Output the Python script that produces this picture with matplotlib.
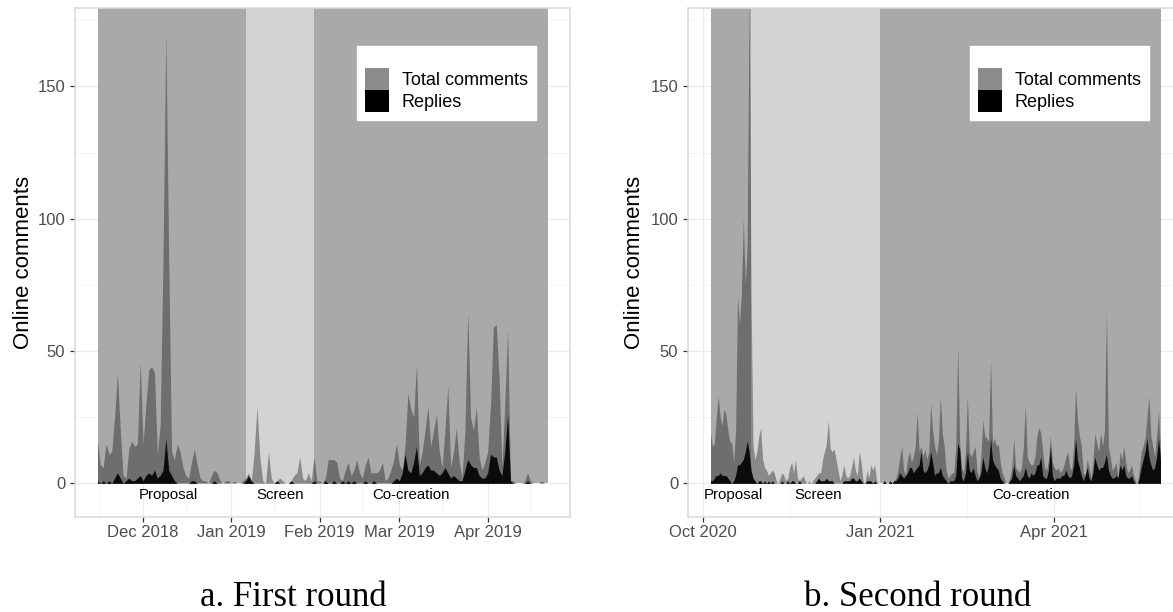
import matplotlib
matplotlib.use("Agg")
import matplotlib.pyplot as plt
import matplotlib.dates as mdates
import numpy as np
import pandas as pd
from matplotlib.patches import Patch

plt.rcParams['font.family'] = ['Liberation Sans', 'DejaVu Sans']

# ---- first round: daily counts from 2018-11-15
r1_start = '2018-11-15'
r1_total = [16, 7, 6, 15, 11, 12, 25, 42, 20, 3,
            2, 13, 16, 14, 15, 46, 15, 30, 43, 44,
            42, 11, 22, 85, 170, 85, 12, 9, 15, 12,
            6, 3, 2, 8, 13, 7, 2, 1, 1, 0,
            3, 5, 4, 1, 0, 1, 1, 0, 1, 0,
            0, 1, 2, 4, 1, 12, 29, 10, 1, 0,
            12, 2, 0, 1, 2, 1, 0, 0, 1, 3,
            4, 10, 2, 1, 4, 1, 10, 1, 1, 0,
            2, 9, 9, 9, 8, 2, 1, 5, 8, 3,
            5, 9, 4, 2, 7, 10, 4, 4, 4, 5,
            8, 1, 2, 5, 9, 15, 7, 5, 15, 34,
            28, 25, 45, 7, 12, 20, 29, 14, 20, 26,
            12, 6, 20, 37, 6, 12, 21, 8, 2, 20,
            65, 25, 20, 29, 10, 5, 8, 12, 30, 59,
            60, 40, 6, 30, 58, 1, 1, 0, 0, 0,
            1, 4, 1, 0, 0, 0, 1, 0, 0]
r1_replies = [1, 0, 1, 0, 1, 0, 2, 4, 2, 0,
              1, 2, 1, 1, 2, 3, 1, 3, 4, 3,
              5, 2, 3, 5, 17, 5, 3, 1, 0, 0,
              0, 0, 0, 1, 1, 0, 0, 0, 0, 0,
              0, 1, 0, 0, 0, 0, 0, 0, 0, 0,
              0, 0, 1, 3, 1, 0, 0, 0, 0, 0,
              0, 0, 0, 1, 0, 0, 0, 0, 1, 0,
              0, 0, 0, 0, 0, 0, 1, 0, 0, 0,
              1, 0, 0, 1, 0, 0, 1, 0, 1, 0,
              1, 0, 0, 0, 1, 0, 0, 1, 0, 0,
              0, 0, 0, 0, 1, 2, 1, 4, 11, 5,
              4, 8, 14, 3, 4, 6, 7, 5, 5, 4,
              3, 4, 6, 4, 2, 3, 2, 1, 1, 5,
              9, 7, 6, 6, 3, 2, 2, 4, 11, 10,
              10, 5, 3, 12, 26, 1, 0, 0, 0, 0,
              0, 1, 0, 0, 0, 0, 0, 0, 0]
r1_phase_edges = ['2018-11-15', '2019-01-06', '2019-01-30', '2019-04-22']
r1_label_dates = ['2018-12-10', '2019-01-18', '2019-03-05']
r1_ticks = ['2018-12-01', '2019-01-01', '2019-02-01', '2019-03-01', '2019-04-01']

# ---- second round: daily counts from 2020-10-05
r2_start = '2020-10-05'
r2_total = [19, 14, 15, 25, 33, 25, 22, 28, 26, 20,
            16, 15, 8, 20, 71, 60, 72, 100, 75, 90,
            185, 70, 14, 9, 12, 18, 21, 9, 6, 5,
            3, 4, 5, 4, 1, 0, 2, 4, 3, 1,
            2, 6, 8, 4, 9, 2, 1, 2, 3, 1,
            0, 1, 0, 1, 2, 3, 4, 4, 9, 12,
            15, 24, 13, 12, 13, 9, 5, 1, 3, 7,
            3, 2, 3, 6, 10, 5, 3, 12, 8, 1,
            0, 5, 2, 7, 5, 7, 1, 0, 0, 0,
            1, 0, 0, 1, 0, 1, 2, 5, 10, 14,
            5, 3, 9, 12, 8, 10, 14, 27, 12, 14,
            10, 13, 9, 12, 30, 20, 14, 11, 16, 33,
            19, 14, 5, 2, 3, 4, 4, 14, 52, 15,
            6, 4, 12, 33, 12, 10, 12, 14, 5, 2,
            10, 24, 18, 17, 16, 47, 15, 17, 14, 15,
            8, 4, 2, 0, 0, 2, 6, 17, 6, 5,
            4, 6, 14, 30, 10, 8, 7, 7, 10, 18,
            21, 19, 12, 6, 5, 9, 18, 8, 6, 5,
            6, 4, 5, 7, 10, 12, 6, 5, 14, 36,
            24, 18, 14, 4, 3, 9, 6, 2, 8, 19,
            15, 12, 19, 14, 20, 65, 14, 10, 5, 6,
            8, 2, 12, 9, 14, 8, 4, 5, 7, 3,
            1, 0, 5, 12, 14, 17, 25, 33, 18, 14,
            10, 18, 27, 12]
r2_replies = [1, 1, 2, 3, 3, 4, 3, 3, 3, 2,
              1, 0, 1, 3, 7, 7, 8, 9, 12, 16,
              12, 5, 2, 1, 0, 1, 1, 0, 1, 0,
              1, 0, 1, 0, 0, 0, 0, 1, 0, 0,
              1, 0, 1, 1, 0, 0, 1, 0, 0, 0,
              0, 0, 0, 0, 0, 1, 2, 1, 1, 1,
              2, 1, 1, 1, 0, 0, 0, 0, 0, 1,
              1, 1, 1, 2, 2, 1, 1, 2, 1, 0,
              0, 1, 1, 1, 0, 1, 0, 0, 0, 0,
              1, 0, 0, 1, 0, 1, 1, 2, 4, 3,
              2, 3, 4, 6, 6, 4, 5, 6, 7, 12,
              5, 4, 5, 7, 12, 8, 3, 4, 4, 6,
              3, 2, 1, 0, 1, 1, 1, 3, 15, 13,
              2, 1, 4, 12, 5, 4, 6, 3, 1, 2,
              4, 10, 6, 4, 7, 17, 9, 7, 6, 5,
              2, 1, 0, 0, 0, 1, 2, 7, 3, 2,
              1, 2, 3, 6, 3, 2, 4, 3, 4, 7,
              7, 10, 3, 2, 2, 5, 14, 3, 1, 2,
              2, 2, 3, 3, 5, 3, 2, 3, 7, 17,
              9, 6, 3, 1, 3, 6, 2, 1, 4, 10,
              7, 5, 6, 6, 8, 11, 5, 3, 2, 2,
              3, 2, 7, 5, 7, 3, 2, 2, 3, 1,
              0, 0, 2, 6, 9, 12, 17, 10, 7, 5,
              6, 10, 17, 9]
r2_phase_edges = ['2020-10-05', '2020-10-26', '2021-01-01', '2021-05-26']
r2_label_dates = ['2020-10-17', '2020-11-30', '2021-03-20']
r2_ticks = ['2020-10-01', '2021-01-01', '2021-04-01']

phase_names = ['Proposal', 'Screen', 'Co-creation']
phase_colors = ['#a9a9a9', '#d3d3d3', '#a9a9a9']
y_ticks = [0, 50, 100, 150]

W, H = 1173, 612
fig = plt.figure(figsize=(W / 100, H / 100), dpi=100)


def panel(x0, x1, top, bottom):
    return fig.add_axes([x0 / W, 1 - bottom / H, (x1 - x0) / W, (bottom - top) / H])


def draw(ax, start, total, replies, edges, label_dates, ticks, minor_days, ylab_x):
    dates = pd.date_range(start, periods=len(total), freq='D')
    span = (dates[-1] - dates[0]).days
    pad = pd.Timedelta(days=0.05 * span)
    ax.set_xlim(dates[0] - pad, dates[-1] + pad)
    ax.set_ylim(-12.7, 179.6)

    edges = pd.to_datetime(edges)
    for i, name in enumerate(phase_names):
        ax.fill_between([edges[i], edges[i + 1]], 0, 250, color=phase_colors[i],
                        lw=0, zorder=1)
        ax.text(pd.Timestamp(label_dates[i]), -6.0, name, ha='center', va='baseline',
                fontsize=10.8, color='black', zorder=4)

    ax.fill_between(dates, 0, total, color='black', alpha=0.35, lw=0, zorder=2)
    ax.fill_between(dates, 0, replies, color='black', alpha=0.9, lw=0, zorder=3)

    ax.set_xticks(pd.to_datetime(ticks))
    ax.xaxis.set_major_formatter(mdates.DateFormatter('%b %Y'))
    ax.xaxis.set_minor_locator(mdates.MonthLocator(bymonthday=minor_days))
    ax.set_yticks(y_ticks)
    ax.set_yticks([25, 75, 125, 175], minor=True)
    ax.grid(True, which='major', color='#ebebeb', lw=0.9, zorder=0)
    ax.grid(True, which='minor', color='#f3f3f3', lw=0.6, zorder=0)
    ax.set_axisbelow(True)

    ax.tick_params(axis='both', which='major', length=3.5, width=0.9, color='#333333',
                   labelsize=12, labelcolor='#4d4d4d')
    ax.tick_params(axis='x', which='major', pad=2)
    ax.tick_params(axis='y', which='major', pad=3.5)
    ax.tick_params(axis='both', which='minor', length=0)
    for s in ax.spines.values():
        s.set_color('#d9d9d9')
        s.set_linewidth(1.1)

    ax.set_ylabel('Online comments', fontsize=16, color='black')
    ax.yaxis.set_label_coords(ylab_x, 0.5)

    handles = [Patch(facecolor='#8c8c8c', edgecolor='none', label='Total comments'),
               Patch(facecolor='black', edgecolor='none', label='Replies')]
    leg = ax.legend(handles=handles, loc='upper right', bbox_to_anchor=(0.931, 0.925),
                    fontsize=13, frameon=True, fancybox=False, framealpha=1,
                    facecolor='white', edgecolor='white', handlelength=1.33,
                    handleheight=1.47, labelspacing=0.0, handletextpad=0.7,
                    borderpad=0.45, borderaxespad=0, title=' ', title_fontsize=10)
    leg.set_zorder(6)


ax1 = panel(75, 570, 8, 517)
draw(ax1, r1_start, r1_total, r1_replies, r1_phase_edges, r1_label_dates, r1_ticks,
     16, -0.082)

ax2 = panel(688, 1183, 8, 517)
draw(ax2, r2_start, r2_total, r2_replies, r2_phase_edges, r2_label_dates, r2_ticks,
     15, -0.087)
ax2.xaxis.set_minor_locator(mdates.MonthLocator(bymonth=[2, 5, 8, 11], bymonthday=15))

fig.text(293 / W, 1 - 606 / H, 'a. First round', ha='center', va='baseline',
         fontsize=25, family='Liberation Serif')
fig.text(918 / W, 1 - 606 / H, 'b. Second round', ha='center', va='baseline',
         fontsize=25, family='Liberation Serif')

fig.savefig('out.png', dpi=100)
